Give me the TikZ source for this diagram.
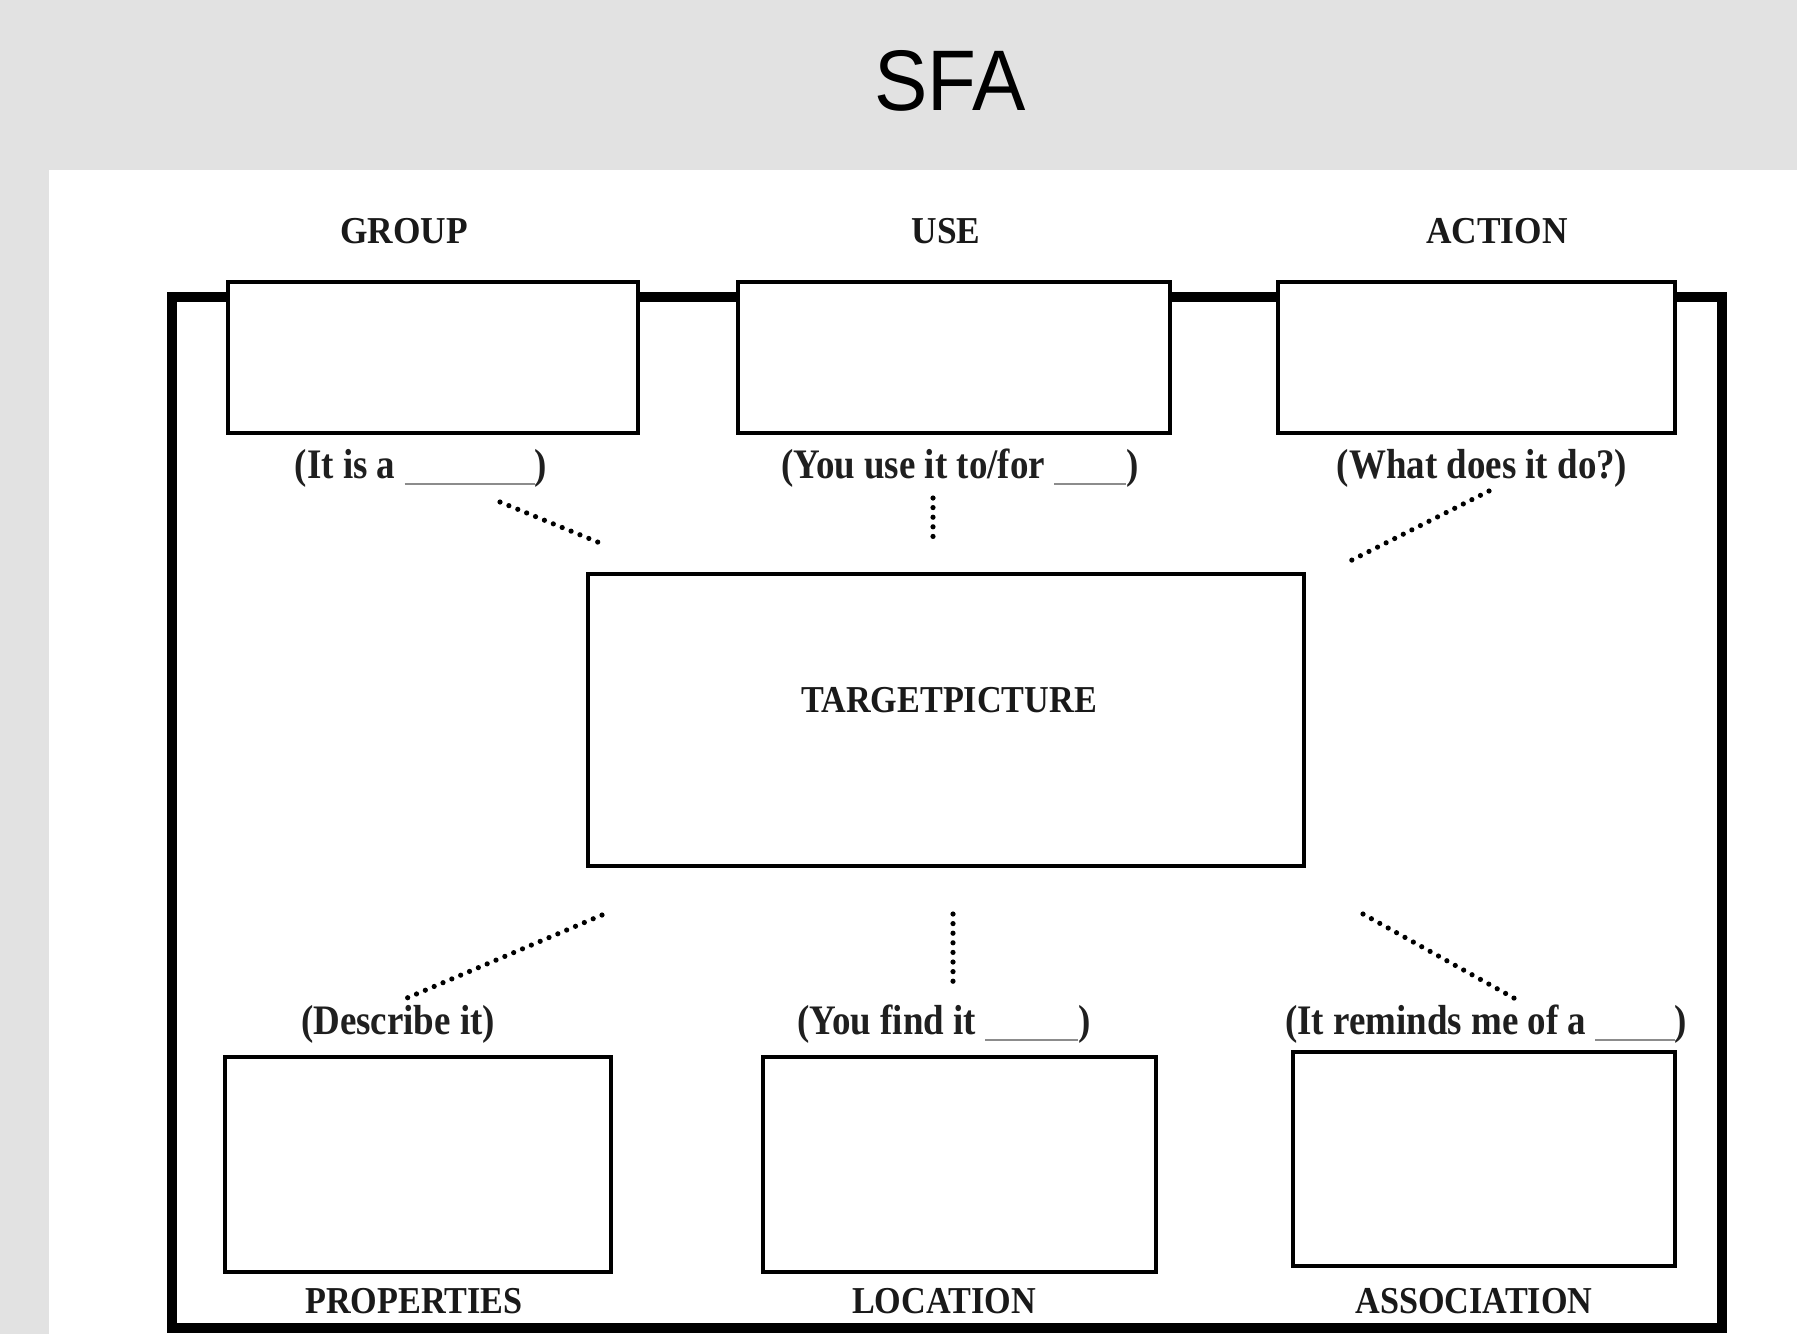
\documentclass[tikz,border=0pt]{standalone}
\usepackage{graphicx}
\usepackage{fontspec}
\setmainfont{Liberation Serif}
\newfontfamily\titlefont{Liberation Sans}
\definecolor{bggray}{RGB}{226,226,226}
\newcommand\cz[1]{\scalebox{0.9}[1]{#1}}
\newcommand\czl[1]{\scalebox{0.93}[1]{#1}}
\newcommand\czc[1]{\scalebox{0.88}[1]{#1}}
\newcommand\blank[1]{\textcolor{black!45}{\rule[-3.7pt]{#1}{1.1pt}}}
\tikzset{
  box/.style={draw=black, line width=2.3pt, fill=white, inner sep=0pt, rectangle},
  lbl/.style={font=\bfseries\fontsize{19}{22}\selectfont, anchor=base, inner sep=0pt, text=black!90},
  captxt/.style={font=\bfseries\fontsize{21}{24}\selectfont, anchor=base, inner sep=0pt, text=black!88},
  dots/.style={line width=2.6pt, dash pattern=on 0pt off 4.8pt, line cap=round},
}
\begin{document}
\begin{tikzpicture}[x=0.5pt, y=-0.5pt]
\useasboundingbox (0,0) rectangle (1797,1334);
\fill[bggray] (0,0) rectangle (1797,1334);
\fill[white] (49,170) rectangle (1797,1334);
\node[font=\titlefont\fontsize{43}{50}\selectfont, anchor=base, inner sep=0pt] (title) at (950,110) {\scalebox{0.93}[1]{SFA}};

% outer frame
\draw[line width=4.6pt] (172,297) rectangle (1722,1328);

% top boxes
\node[box, minimum width=205pt, minimum height=75.5pt] (group) at (433,357.5) {};
\node[box, minimum width=216pt, minimum height=75.5pt] (use) at (954,357.5) {};
\node[box, minimum width=198.5pt, minimum height=75.5pt] (action) at (1476.5,357.5) {};

% center box
\node[box, minimum width=358pt, minimum height=146pt] (target) at (946,720) {};
\node[lbl] (targettxt) at (949,712) {\cz{TARGETPICTURE}};

% bottom boxes
\node[box, minimum width=193pt, minimum height=107.5pt] (props) at (418,1164.5) {};
\node[box, minimum width=196.5pt, minimum height=107.5pt] (loc) at (959.5,1164.5) {};
\node[box, minimum width=191pt, minimum height=107pt] (assoc) at (1484,1159) {};

% top labels
\node[lbl] (grouplbl) at (404,243) {\czl{GROUP}};
\node[lbl] (uselbl) at (946,243) {\czl{USE}};
\node[lbl] (actionlbl) at (1497,243) {\czl{ACTION}};

% top captions
\node[captxt] (groupcap) at (421,478) {\czc{(It is a \blank{74pt})}};
\node[captxt] (usecap) at (960,478) {\czc{(You use it to/for \blank{41pt})}};
\node[captxt] (actioncap) at (1482,478) {\czc{(What does it do?)}};

% bottom captions
\node[captxt] (propscap) at (398,1034) {\czc{(Describe it)}};
\node[captxt] (loccap) at (944,1034) {\czc{(You find it \blank{53pt})}};
\node[captxt] (assoccap) at (1486,1034) {\czc{(It reminds me of a \blank{45pt})}};

% bottom labels
\node[lbl] (propslbl) at (414,1313) {\cz{PROPERTIES}};
\node[lbl] (loclbl) at (944,1313) {\cz{LOCATION}};
\node[lbl] (assoclbl) at (1474,1313) {\cz{ASSOCIATION}};

% dotted connector ends
\coordinate (g1) at (500,502);
\coordinate (g2) at (600,543);
\coordinate (u1) at (933,498);
\coordinate (u2) at (933,542);
\coordinate (a1) at (1489,491);
\coordinate (a2) at (1348,562);
\coordinate (p1) at (602,915);
\coordinate (p2) at (407,998);
\coordinate (l1) at (953,914);
\coordinate (l2) at (953,984);
\coordinate (s1) at (1363,914);
\coordinate (s2) at (1521,1002);

\draw[dots] (g1) -- (g2);
\draw[dots] (u1) -- (u2);
\draw[dots] (a1) -- (a2);
\draw[dots] (p1) -- (p2);
\draw[dots] (l1) -- (l2);
\draw[dots] (s1) -- (s2);
\end{tikzpicture}
\end{document}
